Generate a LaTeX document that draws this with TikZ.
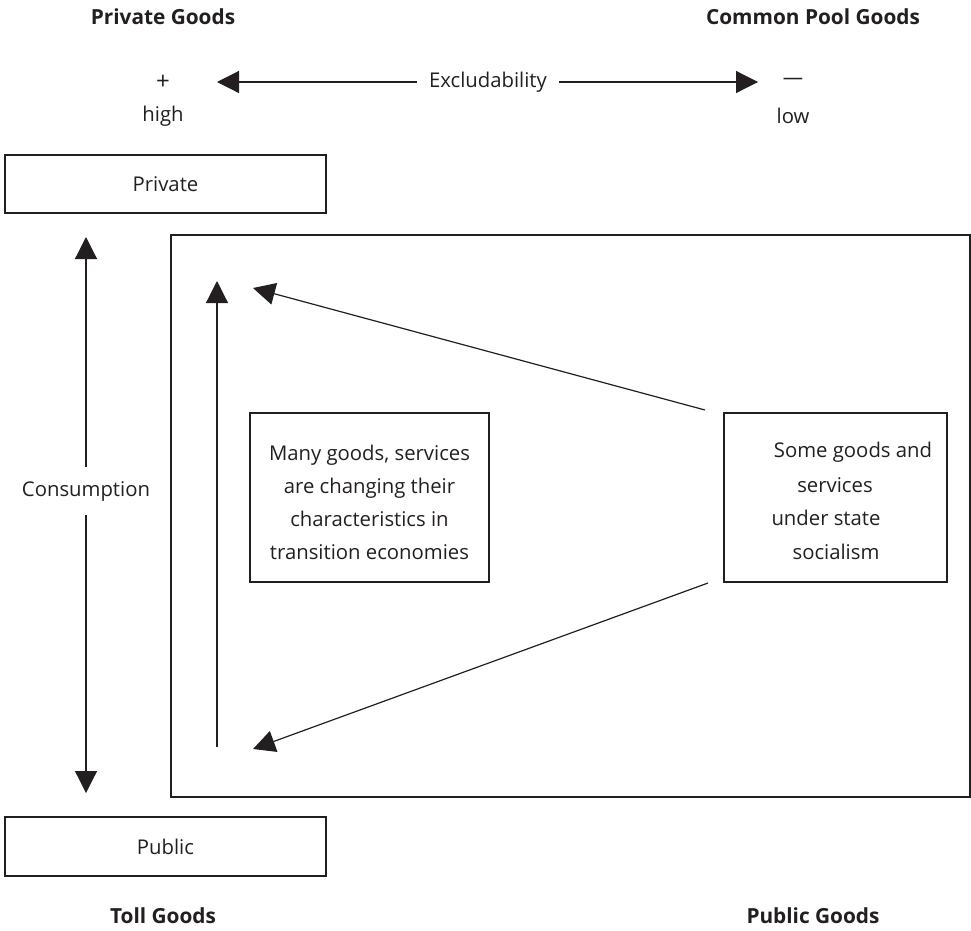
\documentclass[tikz,border=0pt]{standalone}
\usepackage{fontspec}
\setmainfont{Open Sans}
\usetikzlibrary{arrows.meta}
\definecolor{ink}{HTML}{231F20}
\tikzset{
  lbl/.style={inner sep=0pt, text=ink, font=\fontsize{20.3}{33}\selectfont, align=center},
  ttl/.style={lbl, font=\fontsize{20.8}{24}\selectfont\bfseries},
  boxed/.style={draw=ink, line width=1.3pt, inner sep=0pt},
  arr/.style={draw=ink, line width=1.2pt, -{Triangle[length=22pt,width=22pt]}},
}
\begin{document}
\begin{tikzpicture}[x=1pt,y=-1pt]
\useasboundingbox (0,0) rectangle (971,930);
% titles
\node[ttl] (pg) at (163,17) {Private Goods};
\node[ttl] (cpg) at (813,17) {Common Pool Goods};
\node[ttl] (tg) at (163,916) {Toll Goods};
\node[ttl] (pug) at (813,916) {Public Goods};
% excludability
\node[lbl, font=\fontsize{24}{28}\selectfont] (plus) at (163,82) {+};
\node[lbl] (high) at (163,116) {high};
\node[lbl] (minus) at (793,81) {—};
\node[lbl] (low) at (793,116) {low};
\node[lbl, inner xsep=12pt] (excl) at (488,82) {Excludability};
\coordinate (exL) at (217,82);
\coordinate (exR) at (758,82);
\draw[arr] (excl.west) -- (exL);
\draw[arr] (excl.east) -- (exR);
% private / public boxes
\node[boxed, minimum width=321pt, minimum height=58pt, lbl] (priv) at (165.5,184) {Private};
\node[boxed, minimum width=321pt, minimum height=59pt, lbl] (pub) at (165.5,846.5) {Public};
% consumption arrow
\node[lbl, inner ysep=14pt] (cons) at (86,491) {Consumption};
\coordinate (cT) at (86,237);
\coordinate (cB) at (86,793);
\draw[arr] (cons.north) -- (cT);
\draw[arr] (cons.south) -- (cB);
% big frame
\node[draw=ink, line width=1.2pt, minimum width=799pt, minimum height=562pt, inner sep=0pt] (frame) at (570.5,516) {};
% inner boxes
\node[boxed, minimum width=239pt, minimum height=169pt] (many) at (369.5,497.5) {};
\node[lbl] (manytxt) at (369.5,502.5) {Many goods, services\\are changing their\\characteristics in\\transition economies};
\node[boxed, minimum width=223pt, minimum height=169pt, inner sep=0pt] (some) at (835.5,497.5) {};
\node[lbl] (s1) at (853,452) {Some goods and};
\node[lbl] (s2) at (835,485) {services};
\node[lbl] (s3) at (826,518) {under state};
\node[lbl] (s4) at (836,552) {socialism};
% inner arrows
\coordinate (vB) at (217,747);
\coordinate (vT) at (217,281);
\draw[arr] (vB) -- (vT);
\coordinate (dU) at (705,410);
\coordinate (dUt) at (253,288);
\coordinate (dL) at (708,583);
\coordinate (dLt) at (253,749);
\draw[arr] (dU) -- (dUt);
\draw[arr] (dL) -- (dLt);
\end{tikzpicture}
\end{document}
